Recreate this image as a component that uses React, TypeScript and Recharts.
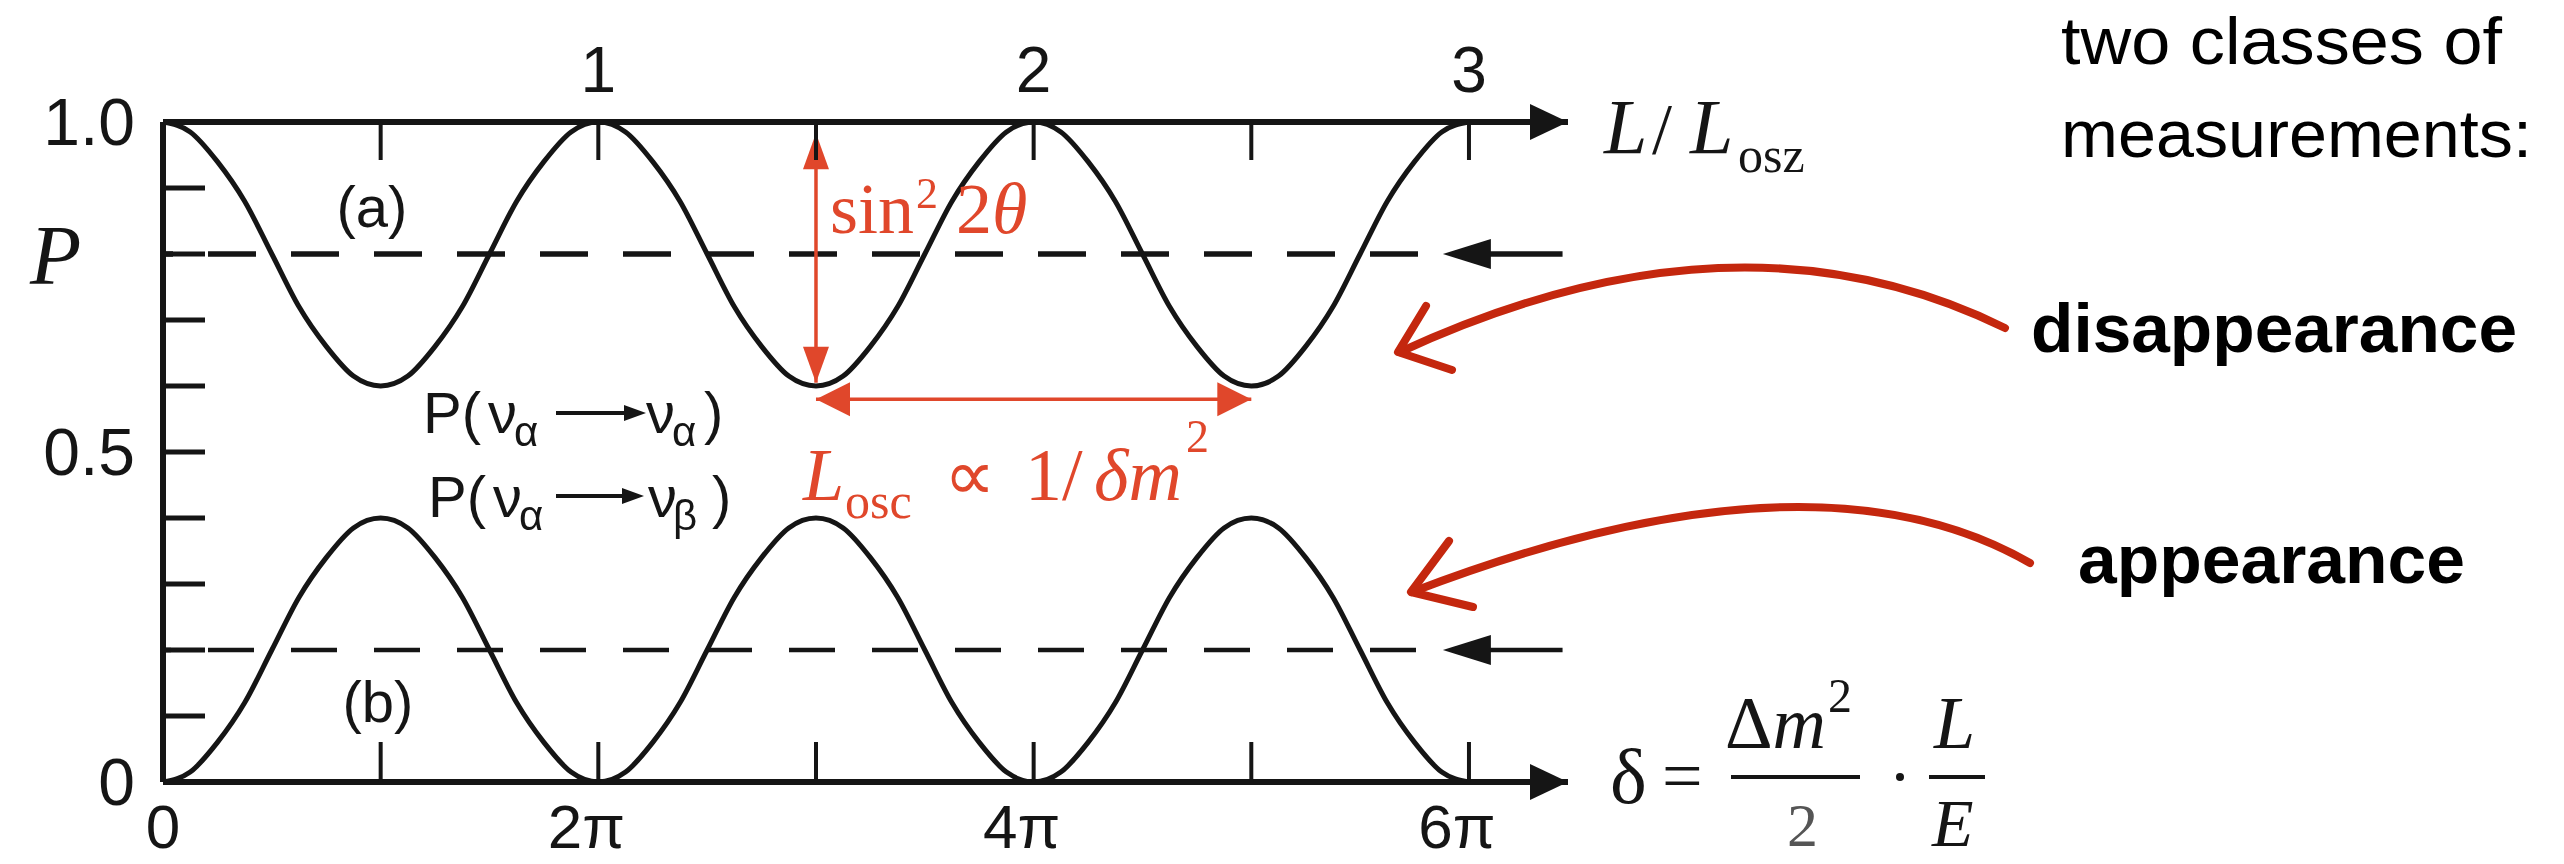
import { LineChart, Line, XAxis, YAxis, ReferenceLine, ReferenceDot } from 'recharts';

// phase δ in units of π
const PHASE = [
  0, 0.125, 0.25, 0.375, 0.5, 0.625, 0.75, 0.875, 1, 1.125, 1.25, 1.375, 1.5, 1.625, 1.75, 1.875,
  2, 2.125, 2.25, 2.375, 2.5, 2.625, 2.75, 2.875, 3, 3.125, 3.25, 3.375, 3.5, 3.625, 3.75, 3.875,
  4, 4.125, 4.25, 4.375, 4.5, 4.625, 4.75, 4.875, 5, 5.125, 5.25, 5.375, 5.5, 5.625, 5.75, 5.875, 6,
];

// (a) survival probability P(να → να)
const P_SURVIVAL = [
  1, 0.985, 0.94, 0.88, 0.8, 0.72, 0.66, 0.615, 0.6, 0.615, 0.66, 0.72, 0.8, 0.88, 0.94, 0.985,
  1, 0.985, 0.94, 0.88, 0.8, 0.72, 0.66, 0.615, 0.6, 0.615, 0.66, 0.72, 0.8, 0.88, 0.94, 0.985,
  1, 0.985, 0.94, 0.88, 0.8, 0.72, 0.66, 0.615, 0.6, 0.615, 0.66, 0.72, 0.8, 0.88, 0.94, 0.985, 1,
];

// (b) transition probability P(να → νβ)
const P_TRANSITION = [
  0, 0.015, 0.06, 0.12, 0.2, 0.28, 0.34, 0.385, 0.4, 0.385, 0.34, 0.28, 0.2, 0.12, 0.06, 0.015,
  0, 0.015, 0.06, 0.12, 0.2, 0.28, 0.34, 0.385, 0.4, 0.385, 0.34, 0.28, 0.2, 0.12, 0.06, 0.015,
  0, 0.015, 0.06, 0.12, 0.2, 0.28, 0.34, 0.385, 0.4, 0.385, 0.34, 0.28, 0.2, 0.12, 0.06, 0.015, 0,
];

const MEAN_SURVIVAL = 0.8;
const MEAN_TRANSITION = 0.2;

const X_TICKS = [0, 1, 2, 3, 4, 5, 6];
const DELTA_LABELS = ['0', '', '2π', '', '4π', '', '6π'];
const LENGTH_LABELS = ['', '', '1', '', '2', '', '3'];
const Y_TICKS = [0, 0.1, 0.2, 0.3, 0.4, 0.5, 0.6, 0.7, 0.8, 0.9, 1];
const Y_LABELS: Record<string, string> = { '0': '0', '0.5': '0.5', '1': '1.0' };

// annotation anchors (data units)
const X_MAX = 6.455;
const MEAN_ARROW_TIP = 5.88;
const MEAN_TAIL = [6.08, 6.43];
const AMPLITUDE_X = 3;
const AMPLITUDE_TIPS = [0.983, 0.605];
const PERIOD_Y = 0.58;
const PERIOD_TIPS = [3, 5];

const data = PHASE.map((x, i) => ({ x, a: P_SURVIVAL[i], b: P_TRANSITION[i] }));

const INK = '#151515';
const RED = '#E0472B';
const HAND_RED = '#C4270E';
const SANS = '"Liberation Sans", Arial, sans-serif';
const SERIF = '"Liberation Serif", "Times New Roman", serif';

type Dir = 'up' | 'down' | 'left' | 'right';

function arrowHead(dir: Dir, len: number, half: number, fill: string) {
  return (props: any) => {
    const { cx, cy } = props;
    if (cx == null || cy == null) return <g />;
    let pts = '';
    if (dir === 'right') pts = `${cx},${cy} ${cx - len},${cy - half} ${cx - len},${cy + half}`;
    if (dir === 'left') pts = `${cx},${cy} ${cx + len},${cy - half} ${cx + len},${cy + half}`;
    if (dir === 'up') pts = `${cx},${cy} ${cx - half},${cy + len} ${cx + half},${cy + len}`;
    if (dir === 'down') pts = `${cx},${cy} ${cx - half},${cy - len} ${cx + half},${cy - len}`;
    return <polygon points={pts} fill={fill} />;
  };
}

const BottomTick = (props: any) => {
  const { x, y, payload, index } = props;
  return (
    <g>
      {payload.value !== 0 && <line x1={x} x2={x} y1={y} y2={y - 40} stroke={INK} strokeWidth={4} />}
      <text
        x={payload.value === 0 ? x : x - 12}
        y={y + 66}
        textAnchor="middle"
        fontFamily={SANS}
        fontSize={62}
        fill={INK}
      >
        {DELTA_LABELS[index] ?? ''}
      </text>
    </g>
  );
};

const TopTick = (props: any) => {
  const { x, y, payload, index } = props;
  return (
    <g>
      {payload.value !== 0 && <line x1={x} x2={x} y1={y} y2={y + 38} stroke={INK} strokeWidth={4} />}
      <text x={x} y={y - 30} textAnchor="middle" fontFamily={SANS} fontSize={64} fill={INK}>
        {LENGTH_LABELS[index] ?? ''}
      </text>
    </g>
  );
};

const LeftTick = (props: any) => {
  const { x, y, payload } = props;
  const v = payload.value;
  const label = Y_LABELS[String(v)];
  return (
    <g>
      {v !== 0 && v !== 1 && <line x1={x} x2={x + 42} y1={y} y2={y} stroke={INK} strokeWidth={5} />}
      {label && (
        <text x={x - 28} y={y + 23} textAnchor="end" fontFamily={SANS} fontSize={66} fill={INK}>
          {label}
        </text>
      )}
    </g>
  );
};

function OscillationChart() {
  const ids = { xAxisId: 'delta', yAxisId: 'p' };
  return (
    <LineChart
      width={2564}
      height={864}
      data={data}
      margin={{ top: 92, right: 996, bottom: 52, left: 103 }}
    >
      <XAxis
        xAxisId="delta"
        dataKey="x"
        type="number"
        domain={[0, X_MAX]}
        allowDataOverflow
        ticks={X_TICKS}
        interval={0}
        height={30}
        tickSize={0}
        tickMargin={0}
        tickLine={false}
        axisLine={{ stroke: INK, strokeWidth: 6 }}
        tick={BottomTick}
      />
      <XAxis
        xAxisId="length"
        orientation="top"
        dataKey="x"
        type="number"
        domain={[0, X_MAX]}
        allowDataOverflow
        ticks={X_TICKS}
        interval={0}
        height={30}
        tickSize={0}
        tickMargin={0}
        tickLine={false}
        axisLine={{ stroke: INK, strokeWidth: 6 }}
        tick={TopTick}
      />
      <YAxis
        yAxisId="p"
        type="number"
        domain={[0, 1]}
        ticks={Y_TICKS}
        interval={0}
        width={60}
        tickSize={0}
        tickMargin={0}
        tickLine={false}
        axisLine={{ stroke: INK, strokeWidth: 6 }}
        tick={LeftTick}
      />

      {/* averaged probabilities */}
      <ReferenceLine
        {...ids}
        segment={[{ x: 0, y: MEAN_SURVIVAL }, { x: MEAN_ARROW_TIP, y: MEAN_SURVIVAL }]}
        stroke={INK}
        strokeWidth={5.5}
        strokeDasharray="48 35"
        strokeDashoffset={38}
      />
      <ReferenceLine
        {...ids}
        segment={[{ x: MEAN_TAIL[0], y: MEAN_SURVIVAL }, { x: MEAN_TAIL[1], y: MEAN_SURVIVAL }]}
        stroke={INK}
        strokeWidth={5.5}
      />
      <ReferenceDot {...ids} x={MEAN_ARROW_TIP} y={MEAN_SURVIVAL} ifOverflow="visible" shape={arrowHead('left', 48, 15, INK)} />
      <ReferenceLine
        {...ids}
        segment={[{ x: 0, y: MEAN_TRANSITION }, { x: MEAN_ARROW_TIP, y: MEAN_TRANSITION }]}
        stroke={INK}
        strokeWidth={4.5}
        strokeDasharray="46 37"
        strokeDashoffset={38}
      />
      <ReferenceLine
        {...ids}
        segment={[{ x: MEAN_TAIL[0], y: MEAN_TRANSITION }, { x: MEAN_TAIL[1], y: MEAN_TRANSITION }]}
        stroke={INK}
        strokeWidth={4.5}
      />
      <ReferenceDot {...ids} x={MEAN_ARROW_TIP} y={MEAN_TRANSITION} ifOverflow="visible" shape={arrowHead('left', 48, 15, INK)} />

      {/* axis arrows */}
      <ReferenceDot {...ids} x={X_MAX} y={1} ifOverflow="visible" shape={arrowHead('right', 38, 18, INK)} />
      <ReferenceDot {...ids} x={X_MAX} y={0} ifOverflow="visible" shape={arrowHead('right', 38, 18, INK)} />

      <Line {...ids} type="monotone" dataKey="a" stroke={INK} strokeWidth={5} dot={false} isAnimationActive={false} />
      <Line {...ids} type="monotone" dataKey="b" stroke={INK} strokeWidth={5} dot={false} isAnimationActive={false} />

      {/* amplitude sin²2θ */}
      <ReferenceLine
        {...ids}
        segment={[{ x: AMPLITUDE_X, y: AMPLITUDE_TIPS[0] }, { x: AMPLITUDE_X, y: AMPLITUDE_TIPS[1] }]}
        stroke={RED}
        strokeWidth={3.5}
      />
      <ReferenceDot {...ids} x={AMPLITUDE_X} y={AMPLITUDE_TIPS[0]} ifOverflow="visible" shape={arrowHead('up', 36, 13, RED)} />
      <ReferenceDot {...ids} x={AMPLITUDE_X} y={AMPLITUDE_TIPS[1]} ifOverflow="visible" shape={arrowHead('down', 36, 13, RED)} />

      {/* oscillation length */}
      <ReferenceLine
        {...ids}
        segment={[{ x: PERIOD_TIPS[0], y: PERIOD_Y }, { x: PERIOD_TIPS[1], y: PERIOD_Y }]}
        stroke={RED}
        strokeWidth={3.5}
      />
      <ReferenceDot {...ids} x={PERIOD_TIPS[0]} y={PERIOD_Y} ifOverflow="visible" shape={arrowHead('left', 34, 17, RED)} />
      <ReferenceDot {...ids} x={PERIOD_TIPS[1]} y={PERIOD_Y} ifOverflow="visible" shape={arrowHead('right', 34, 17, RED)} />
    </LineChart>
  );
}

function FigureLabels() {
  return (
    <svg width={2564} height={864} style={{ position: 'absolute', left: 0, top: 0, pointerEvents: 'none' }}>
      <text x={30} y={284} fontFamily={SERIF} fontStyle="italic" fontSize={84} fill={INK}>P</text>
      <text x={372} y={227} textAnchor="middle" fontFamily={SANS} fontSize={58} fill={INK}>(a)</text>
      <text x={378} y={722} textAnchor="middle" fontFamily={SANS} fontSize={58} fill={INK}>(b)</text>

      {/* P(να → να) and P(να → νβ) */}
      <g fontFamily={SANS} fill={INK}>
        <text x={423} y={433} fontSize={58}>P(</text>
        <text x={488} y={433} fontSize={58}>ν</text>
        <text x={514} y={446} fontSize={42}>α</text>
        <line x1={556} x2={628} y1={413} y2={413} stroke={INK} strokeWidth={4} />
        <polygon points="646,413 624,405 624,421" fill={INK} />
        <text x={646} y={433} fontSize={58}>ν</text>
        <text x={672} y={446} fontSize={42}>α</text>
        <text x={704} y={433} fontSize={58}>)</text>

        <text x={428} y={517} fontSize={58}>P(</text>
        <text x={493} y={517} fontSize={58}>ν</text>
        <text x={519} y={530} fontSize={42}>α</text>
        <line x1={556} x2={626} y1={496} y2={496} stroke={INK} strokeWidth={4} />
        <polygon points="644,496 622,488 622,504" fill={INK} />
        <text x={648} y={517} fontSize={58}>ν</text>
        <text x={673} y={530} fontSize={42}>β</text>
        <text x={712} y={517} fontSize={58}>)</text>
      </g>

      {/* sin²2θ */}
      <g fontFamily={SERIF} fill={RED}>
        <text x={830} y={233} fontSize={72}>sin</text>
        <text x={916} y={208} fontSize={44}>2</text>
        <text x={956} y={233} fontSize={72}>2<tspan fontStyle="italic">θ</tspan></text>
      </g>

      {/* L_osc ∝ 1/δm² */}
      <g fontFamily={SERIF} fill={RED}>
        <text x={803} y={500} fontSize={74} fontStyle="italic">L</text>
        <text x={845} y={518} fontSize={50}>osc</text>
        <text x={944} y={500} fontSize={72}>∝</text>
        <text x={1025} y={500} fontSize={74}>1/</text>
        <text x={1094} y={500} fontSize={74} fontStyle="italic">δm</text>
        <text x={1186} y={452} fontSize={46}>2</text>
      </g>

      {/* L / L_osz */}
      <g fontFamily={SERIF} fill={INK}>
        <text x={1604} y={153} fontSize={78} fontStyle="italic">L</text>
        <text x={1652} y={153} fontSize={72}>/</text>
        <text x={1690} y={153} fontSize={78} fontStyle="italic">L</text>
        <text x={1738} y={172} fontSize={50}>osz</text>
      </g>

      {/* δ = Δm²/2 · L/E */}
      <g fontFamily={SERIF} fill={INK}>
        <text x={1610} y={803} fontSize={78}>δ</text>
        <text x={1662} y={800} fontSize={72}>=</text>
        <text x={1725} y={748} fontSize={74}>Δ<tspan fontStyle="italic">m</tspan></text>
        <text x={1828} y={712} fontSize={48}>2</text>
        <line x1={1731} x2={1860} y1={777} y2={777} stroke={INK} strokeWidth={4} />
        <text x={1787} y={846} fontSize={62} fill="#555">2</text>
        <circle cx={1900} cy={777} r={4} fill={INK} />
        <line x1={1929} x2={1985} y1={777} y2={777} stroke={INK} strokeWidth={4} />
        <text x={1934} y={748} fontSize={74} fontStyle="italic">L</text>
        <text x={1932} y={846} fontSize={68} fontStyle="italic">E</text>
      </g>
    </svg>
  );
}

function SideNotes() {
  return (
    <svg width={2564} height={864} style={{ position: 'absolute', left: 0, top: 0, pointerEvents: 'none' }}>
      <g fontFamily={SANS} fill="#000">
        <text x={2061} y={64} fontSize={66} textLength={441} lengthAdjust="spacingAndGlyphs">two classes of</text>
        <text x={2061} y={157} fontSize={66} textLength={471} lengthAdjust="spacingAndGlyphs">measurements:</text>
        <text x={2031} y={352} fontSize={68} fontWeight="bold" textLength={486} lengthAdjust="spacingAndGlyphs">disappearance</text>
        <text x={2078} y={583} fontSize={68} fontWeight="bold" textLength={387} lengthAdjust="spacingAndGlyphs">appearance</text>
      </g>
      <g stroke={HAND_RED} fill="none" strokeLinecap="round" strokeLinejoin="round">
        <path d="M 2005 328 Q 1737 196 1400 352" strokeWidth={8} />
        <path d="M 1426 306 L 1398 352 L 1452 370" strokeWidth={8} />
        <path d="M 2030 563 Q 1813 438 1412 592" strokeWidth={8} />
        <path d="M 1449 541 L 1411 592 L 1473 607" strokeWidth={8} />
      </g>
    </svg>
  );
}

export default function App() {
  return (
    <div style={{ position: 'absolute', left: 0, top: 0, width: 2564, height: 864, background: '#fff' }}>
      <div style={{ position: 'absolute', left: 0, top: 0, filter: 'blur(0.7px)' }}>
        <OscillationChart />
        <FigureLabels />
      </div>
      <SideNotes />
    </div>
  );
}
